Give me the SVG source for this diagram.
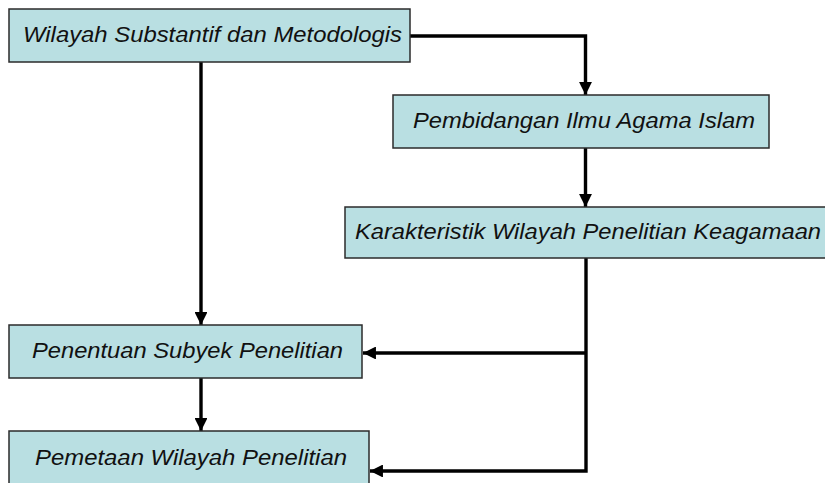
<svg xmlns="http://www.w3.org/2000/svg" width="825" height="483" viewBox="0 0 825 483">
<defs>
<style>
.box{fill:#b9dfe2;stroke:#2b2b2b;stroke-width:1.5}
.lbl{font-family:"Liberation Sans",Arial,sans-serif;font-style:italic;font-size:21.5px;fill:#111}
.c{fill:none;stroke:#000;stroke-width:3.4;stroke-linejoin:miter}
</style>
<marker id="ah" viewBox="0 0 10 10" refX="10" refY="5" markerWidth="4" markerHeight="3.8" orient="auto" markerUnits="strokeWidth">
<path d="M0,0 L10,5 L0,10 z" fill="#000"/>
</marker>
</defs>
<rect width="825" height="483" fill="#fff"/>
<g id="connectors">
<path class="c" d="M410,36 H585.5 V95" marker-end="url(#ah)"/>
<path class="c" d="M201,62 V325" marker-end="url(#ah)"/>
<path class="c" d="M585.5,148 V207" marker-end="url(#ah)"/>
<path class="c" d="M586,258 V471 H370" marker-end="url(#ah)"/>
<path class="c" d="M586,353 H363" marker-end="url(#ah)"/>
<path class="c" d="M201,378 V431" marker-end="url(#ah)"/>
</g>
<g id="n1">
<rect class="box" x="9" y="9" width="401" height="53"/>
<text class="lbl" x="23" y="42" textLength="379" lengthAdjust="spacingAndGlyphs">Wilayah Substantif dan Metodologis</text>
</g>
<g id="n2">
<rect class="box" x="393" y="95" width="376" height="53"/>
<text class="lbl" x="413" y="128" textLength="342" lengthAdjust="spacingAndGlyphs">Pembidangan Ilmu Agama Islam</text>
</g>
<g id="n3">
<rect class="box" x="345" y="207" width="490" height="51"/>
<text class="lbl" x="355" y="239" textLength="466" lengthAdjust="spacingAndGlyphs">Karakteristik Wilayah Penelitian Keagamaan</text>
</g>
<g id="n4">
<rect class="box" x="9" y="325" width="353" height="53"/>
<text class="lbl" x="32" y="358" textLength="311" lengthAdjust="spacingAndGlyphs">Penentuan Subyek Penelitian</text>
</g>
<g id="n5">
<rect class="box" x="9" y="431" width="360" height="60"/>
<text class="lbl" x="35" y="465" textLength="312" lengthAdjust="spacingAndGlyphs">Pemetaan Wilayah Penelitian</text>
</g>
</svg>
